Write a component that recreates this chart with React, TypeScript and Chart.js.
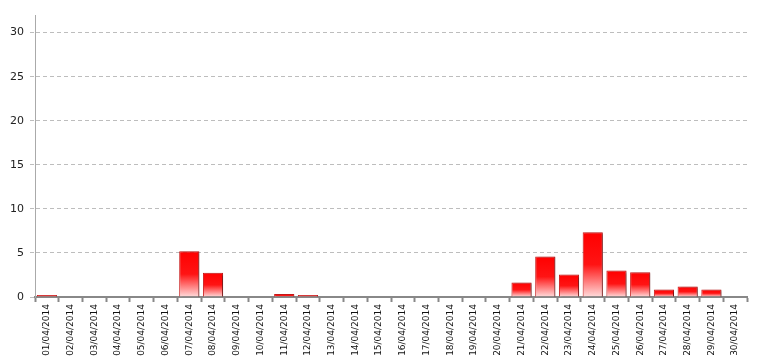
import React, { useEffect, useRef } from "react";
import { Chart, registerables } from "chart.js";

Chart.register(...registerables);

const categories = [
  "01/04/2014","02/04/2014","03/04/2014","04/04/2014","05/04/2014","06/04/2014",
  "07/04/2014","08/04/2014","09/04/2014","10/04/2014","11/04/2014","12/04/2014",
  "13/04/2014","14/04/2014","15/04/2014","16/04/2014","17/04/2014","18/04/2014",
  "19/04/2014","20/04/2014","21/04/2014","22/04/2014","23/04/2014","24/04/2014",
  "25/04/2014","26/04/2014","27/04/2014","28/04/2014","29/04/2014","30/04/2014",
];
const values = [
  0.23, 0, 0, 0.05, 0.05, 0,
  5.2, 2.75, 0, 0, 0.34, 0.23,
  0.05, 0, 0, 0, 0, 0.05,
  0, 0.05, 1.65, 4.6, 2.55, 7.35,
  3.0, 2.8, 0.85, 1.2, 0.85, 0,
];
const yMax = 32;
const yStep = 5;

const shadowPlugin = {
  id: "barShadow",
  beforeDatasetsDraw(chart: any) {
    const ctx = chart.ctx;
    ctx.save();
    ctx.shadowColor = "rgba(0,0,0,0.4)";
    ctx.shadowOffsetX = 2;
    ctx.shadowOffsetY = 1;
    ctx.shadowBlur = 2;
  },
  afterDatasetsDraw(chart: any) {
    chart.ctx.restore();
  },
};

export default function App() {
  const ref = useRef<HTMLCanvasElement>(null);
  useEffect(() => {
    const canvas = ref.current!;
    const chart = new Chart(canvas, {
      type: "bar",
      data: {
        labels: categories,
        datasets: [
          {
            data: values,
            backgroundColor: (c: any) => {
              const chart = c.chart;
              const y = chart.scales?.y;
              if (!y || c.parsed == null) return "#ff1010";
              const top = y.getPixelForValue(c.parsed.y);
              const bottom = y.getPixelForValue(0);
              if (!isFinite(top) || !isFinite(bottom) || bottom - top < 1) return "#ff1010";
              const g = chart.ctx.createLinearGradient(0, top, 0, bottom);
              g.addColorStop(0, "#ff0000");
              g.addColorStop(0.5, "#ff1414");
              g.addColorStop(1, "#ffdcdc");
              return g;
            },
            borderColor: "#c81818",
            borderWidth: 1,
            barPercentage: 0.85,
            categoryPercentage: 1,
          },
        ],
      },
      options: {
        animation: false,
        responsive: true,
        maintainAspectRatio: false,
        layout: { padding: { top: 15, right: 14, left: 0, bottom: 0 } },
        plugins: { legend: { display: false }, tooltip: { enabled: false } },
        scales: {
          x: {
            afterFit: (s: any) => { s.height = 67; },
            grid: {
              display: true,
              drawOnChartArea: false,
              drawTicks: true,
              tickLength: 5,
              tickColor: "#888",
              tickWidth: 2,
              offset: true,
            },
            border: { display: true, color: "#888", width: 2 },
            ticks: {
              autoSkip: false,
              maxRotation: 90,
              minRotation: 90,
              padding: 2,
              color: "#111",
              font: { family: "DejaVu Sans", size: 9 },
            },
          },
          y: {
            min: 0,
            max: yMax,
            afterFit: (s: any) => { s.width = 35; },
            afterBuildTicks: (s: any) => {
              s.ticks = s.ticks.filter((t: any) => t.value % yStep === 0);
            },
            grid: {
              color: "#bdbdbd",
              lineWidth: 1,
              drawTicks: true,
              tickLength: 5,
              tickBorderDash: [4, 3],
            },
            border: { display: true, color: "#aaa", width: 1, dash: [4, 3] },
            ticks: {
              stepSize: yStep,
              padding: 6,
              color: "#222",
              font: { family: "DejaVu Sans", size: 11 },
            },
          },
        },
      },
      plugins: [shadowPlugin],
    });
    return () => chart.destroy();
  }, []);
  return (
    <div style={{ position: "fixed", left: 0, top: 0, width: 761, height: 364, background: "#fff" }}>
      <canvas ref={ref} />
    </div>
  );
}
